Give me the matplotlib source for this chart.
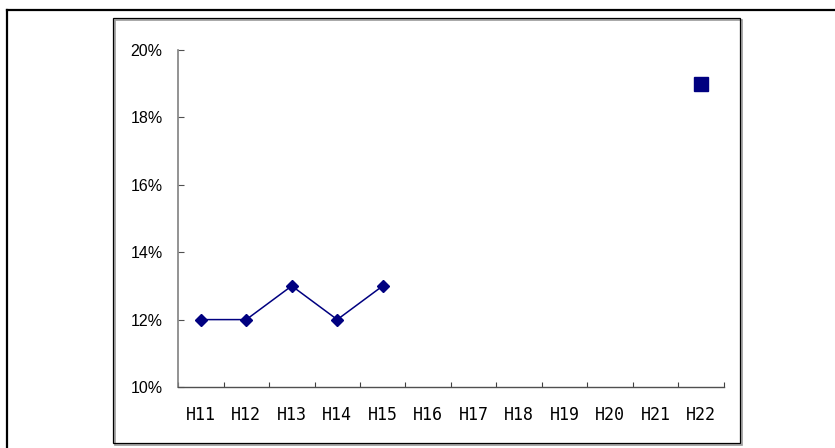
import matplotlib
matplotlib.use("Agg")
import matplotlib.pyplot as plt
from matplotlib.lines import Line2D
from matplotlib.patches import Rectangle
from matplotlib.ticker import FuncFormatter

# Fiscal years (Heisei) on the category axis
years = ["H11", "H12", "H13", "H14", "H15", "H16", "H17",
         "H18", "H19", "H20", "H21", "H22"]
# Observed ratio (%) for H11-H15
actual_years = ["H11", "H12", "H13", "H14", "H15"]
actual_values = [12, 12, 13, 12, 13]
# Target ratio (%) for H22
target_years = ["H22"]
target_values = [19]
# Value axis ticks (%)
y_ticks = [10, 12, 14, 16, 18, 20]

navy = "#000080"
W, H = 835, 448
fig = plt.figure(figsize=(W / 100, H / 100), dpi=100)
fig.patch.set_facecolor("white")

def fx(px):
    return px / W

def fy(py):
    return 1 - py / H

# Page border (top and left rules) and chart area box with shadow
fig.add_artist(Line2D([fx(7), fx(835)], [fy(10), fy(10)], color="black", lw=1.6,
                      transform=fig.transFigure))
fig.add_artist(Line2D([fx(7), fx(7)], [fy(10), fy(448)], color="black", lw=1.6,
                      transform=fig.transFigure))
fig.add_artist(Rectangle((fx(115), fy(445)), fx(740 - 113), (443 - 18) / H,
                         transform=fig.transFigure, facecolor="none",
                         edgecolor="#9a9a9a", lw=1.2))
fig.add_artist(Rectangle((fx(113), fy(443)), fx(740 - 113), (443 - 18) / H,
                         transform=fig.transFigure, facecolor="none",
                         edgecolor="black", lw=0.9))

ax = fig.add_axes([fx(178), fy(387), fx(724 - 178), (387 - 50) / H])
ax.set_facecolor("none")

pos = {y: i for i, y in enumerate(years)}
ax.plot([pos[y] for y in actual_years], actual_values, color=navy, lw=1.1,
        marker="D", markersize=6, markerfacecolor=navy, markeredgecolor=navy)
ax.plot([pos[y] for y in target_years], target_values, linestyle="none",
        marker="s", markersize=10, markerfacecolor=navy, markeredgecolor=navy)

ax.set_xlim(-0.5, len(years) - 0.5)
ax.set_ylim(y_ticks[0], y_ticks[-1])

ax.set_yticks(y_ticks)
ax.yaxis.set_major_formatter(FuncFormatter(lambda v, p: f"{v:.0f}%"))
ax.tick_params(axis="y", direction="in", length=4, width=0.8, color="#505050",
               pad=11, labelsize=11.5, labelcolor="black")
for lab in ax.get_yticklabels():
    lab.set_fontfamily("Liberation Sans")

ax.set_xticks(range(len(years)))
ax.set_xticklabels(years, fontfamily="DejaVu Sans Mono", fontsize=12)
ax.set_xticks([i - 0.5 for i in range(len(years) + 1)], minor=True)
ax.tick_params(axis="x", which="major", length=0, pad=14)
ax.tick_params(axis="x", which="minor", direction="in", length=3.5, width=0.8,
               color="#404040")

for side in ("top", "right"):
    ax.spines[side].set_visible(False)
ax.spines["left"].set_color("#808080")
ax.spines["left"].set_linewidth(1.2)
ax.spines["bottom"].set_color("#505050")
ax.spines["bottom"].set_linewidth(1.0)

fig.savefig("out.png", dpi=100, facecolor="white")
